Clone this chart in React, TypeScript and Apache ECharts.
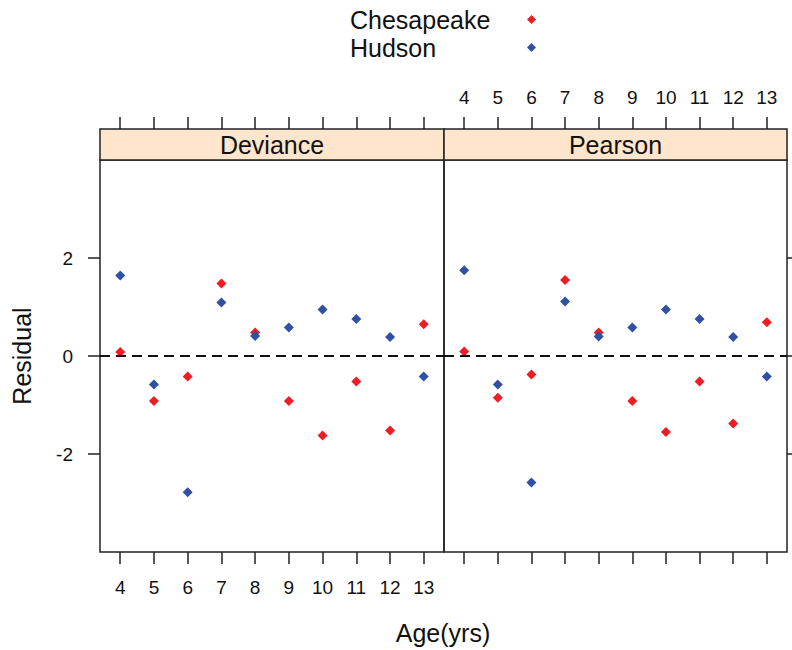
import React, { useEffect, useRef } from "react";
import * as echarts from "echarts";

const ages = [4, 5, 6, 7, 8, 9, 10, 11, 12, 13];
const yTicks = [-2, 0, 2];
const panels = ["Deviance", "Pearson"];
const devianceChesapeake = [0.08, -0.92, -0.42, 1.48, 0.48, -0.92, -1.62, -0.52, -1.52, 0.65];
const devianceHudson = [1.645, -0.58, -2.78, 1.09, 0.41, 0.58, 0.95, 0.755, 0.39, -0.42];
const pearsonChesapeake = [0.09, -0.85, -0.38, 1.55, 0.48, -0.92, -1.55, -0.52, -1.38, 0.69];
const pearsonHudson = [1.75, -0.58, -2.58, 1.11, 0.40, 0.58, 0.95, 0.755, 0.39, -0.42];

const RED = "#EE1D24";
const BLUE = "#2F50A3";
const FONT = "Liberation Sans, Arial, sans-serif";
const INK = "#222";

export default function App() {
  const ref = useRef<HTMLDivElement>(null);
  useEffect(() => {
    if (!ref.current) return;
    const chart = echarts.init(ref.current, undefined, { renderer: "svg" });
    const grids = [
      { left: 100, top: 160, width: 344, height: 392 },
      { left: 444, top: 160, width: 343, height: 392 },
    ];
    const tickStyle = { show: true, inside: false, length: 12, customValues: ages, lineStyle: { color: INK, width: 1.5 } };
    const labelStyle = { show: true, customValues: ages, fontSize: 19, color: "#111", fontFamily: FONT };
    const xBase = { type: "value", min: 3.4, max: 13.6, axisLine: { show: false, onZero: false }, splitLine: { show: false } };
    const yBase = { type: "value", min: -4, max: 4, axisLine: { show: false, onZero: false }, splitLine: { show: false } };
    const pair = (chs: number[], hud: number[], xi: number, yi: number) => [
      {
        name: "Chesapeake", type: "scatter", xAxisIndex: xi, yAxisIndex: yi,
        symbol: "diamond", symbolSize: 10, itemStyle: { color: RED, opacity: 1 },
        data: ages.map((a, i) => [a, chs[i]]),
        markLine: {
          silent: true, symbol: "none", label: { show: false },
          lineStyle: { color: "#111", type: [10, 6], width: 2 },
          data: [{ yAxis: 0 }],
        },
      },
      {
        name: "Hudson", type: "scatter", xAxisIndex: xi, yAxisIndex: yi,
        symbol: "diamond", symbolSize: 10, itemStyle: { color: BLUE, opacity: 1 },
        data: ages.map((a, i) => [a, hud[i]]),
      },
    ];
    const stripGraphics = panels.flatMap((p, i) => {
      const g = grids[i];
      return [
        {
          type: "rect", shape: { x: g.left, y: 129, width: g.width, height: 31 },
          style: { fill: "#FFE5CC", stroke: INK, lineWidth: 1.5 },
        },
        {
          type: "text", x: g.left + g.width / 2, y: 145,
          style: { text: p, fill: "#111", font: `25px ${FONT}`, textAlign: "center", textVerticalAlign: "middle" },
        },
      ];
    });
    chart.setOption({
      animation: false,
      backgroundColor: "#fff",
      textStyle: { fontFamily: FONT },
      legend: {
        data: ["Chesapeake", "Hudson"], orient: "vertical", left: 345, top: 2,
        align: "right", icon: "diamond", itemWidth: 9, itemHeight: 9, itemGap: 3,
        formatter: "{a|{name}}",
        textStyle: {
          fontSize: 25, color: "#111", fontFamily: FONT,
          rich: { a: { width: 172, align: "left", fontSize: 25, lineHeight: 24, color: "#111", fontFamily: FONT } },
        },
      },
      grid: grids.map((g) => ({ ...g, show: true, borderColor: INK, borderWidth: 1.5, backgroundColor: "transparent" })),
      xAxis: [
        { ...xBase, gridIndex: 0, position: "bottom", axisTick: tickStyle, axisLabel: { ...labelStyle, margin: 26 } },
        { ...xBase, gridIndex: 0, position: "top", offset: 31, axisTick: tickStyle, axisLabel: { show: false } },
        { ...xBase, gridIndex: 1, position: "bottom", axisTick: tickStyle, axisLabel: { show: false } },
        { ...xBase, gridIndex: 1, position: "top", offset: 31, axisTick: tickStyle, axisLabel: { ...labelStyle, margin: 22 } },
      ],
      yAxis: [
        {
          ...yBase, gridIndex: 0, position: "left",
          axisTick: { ...tickStyle, customValues: yTicks },
          axisLabel: { ...labelStyle, customValues: yTicks, margin: 27 },
          name: "Residual", nameLocation: "middle", nameGap: 66, nameRotate: 90,
          nameTextStyle: { fontSize: 25, color: "#111", fontFamily: FONT },
        },
        {
          ...yBase, gridIndex: 1, position: "right",
          axisTick: { ...tickStyle, customValues: yTicks }, axisLabel: { show: false },
        },
      ],
      graphic: [
        ...stripGraphics,
        {
          type: "text", x: 443, y: 633,
          style: { text: "Age(yrs)", fill: "#111", font: `25px ${FONT}`, textAlign: "center", textVerticalAlign: "middle" },
        },
      ],
      series: [
        ...pair(devianceChesapeake, devianceHudson, 0, 0),
        ...pair(pearsonChesapeake, pearsonHudson, 2, 1),
      ],
    });
    return () => chart.dispose();
  }, []);
  return <div ref={ref} style={{ position: "absolute", left: 0, top: 0, width: 792, height: 650 }} />;
}
